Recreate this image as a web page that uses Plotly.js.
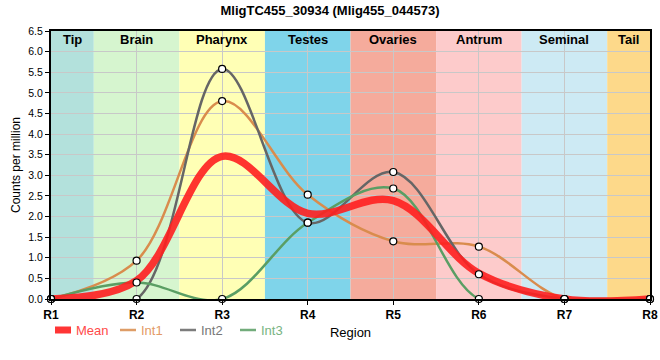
<!DOCTYPE html>
<html><head><meta charset="utf-8">
<script src="https://cdn.plot.ly/plotly-3.0.1.min.js"></script>
<style>html,body{margin:0;padding:0;background:#fff}#chart{width:660px;height:360px}</style>
</head><body><div id="chart"></div>
<script>
const regions = ["R1","R2","R3","R4","R5","R6","R7","R8"];
const int1 = [0, 0.93, 4.80, 2.53, 1.40, 1.27, 0, 0];
const int2 = [0, 0.00, 5.58, 1.85, 3.08, 0.60, 0, 0];
const int3 = [0, 0.40, 0.00, 1.85, 2.68, 0.00, 0, 0];
const meanVals = int1.map((v,i)=>(v+int2[i]+int3[i])/3);
const seriesNames = ["Mean","Int1","Int2","Int3"];
const bandNames = ["Tip","Brain","Pharynx","Testes","Ovaries","Antrum","Seminal","Tail"];
const bandColors = ["#b3e1dc","#d6f5cf","#ffffb5","#7fd4ea","#f5ab9c","#fdcbcb","#cdeaf4","#fdd98a"];
const lineColors = {Mean:'#ff2020', Int1:'#d98c4d', Int2:'#666666', Int3:'#5a9e64'};
const textColors = {Mean:'#ff4a4a', Int1:'#e39a66', Int2:'#777777', Int3:'#78b482'};

const M = {l:51, r:10, t:31, b:61}, W = 660, H = 360;
const PW = W - M.l - M.r, PH = H - M.t - M.b;
const px = v => (v - M.l) / PW, py = v => (H - M.b - v) / PH;

const x = regions;
const lineT = (y,name,w,op) => ({x, y, type:'scatter', mode:'lines', name, showlegend:false,
  line:{color:lineColors[name], width:w, shape:'spline', smoothing:1}, opacity:op||1, hoverinfo:'skip'});
const markT = (y) => ({x, y, type:'scatter', mode:'markers', showlegend:false,
  marker:{color:'#fff', size:7, line:{color:'#000', width:1.2}}, cliponaxis:false});

const traces = [
  lineT(int1,'Int1',2.5),
  lineT(int2,'Int2',2.5),
  lineT(int3,'Int3',2.5),
  lineT(meanVals,'Mean',7.5,0.9),
  markT(int1), markT(int2), markT(int3)
];

const shapes = bandNames.map((b,i)=>({type:'rect', xref:'x', yref:'paper', layer:'below',
  x0: Math.max(0,i-0.5), x1: Math.min(regions.length-1, i+0.5), y0:0, y1:1, fillcolor:bandColors[i], line:{width:0}}));
const annotations = bandNames.map((b,i)=>({xref:'x', yref:'paper', x:(Math.max(0,i-0.5)+Math.min(regions.length-1,i+0.5))/2,
  y:1, yanchor:'top', yshift:1, text:'<b>'+b+'</b>', showarrow:false, font:{size:13, color:'#000'}}));

// legend row (drawn manually to match the compact reference legend)
const legX = [55, 120, 180, 240];
const legY = 330;
seriesNames.forEach((n,i)=>{
  const isMean = n === 'Mean';
  shapes.push({type:'line', xref:'paper', yref:'paper', x0:px(legX[i]), x1:px(legX[i]+16), y0:py(legY), y1:py(legY),
    line:{color:lineColors[n], width: isMean ? 7 : 2.5}, opacity: isMean ? 0.9 : 0.85});
  annotations.push({xref:'paper', yref:'paper', x:px(legX[i]+19), y:py(legY), xanchor:'left', yanchor:'middle',
    text:n, showarrow:false, font:{size:13, color:textColors[n]}});
});

const layout = {
  width:W, height:H, margin:M,
  paper_bgcolor:'#fff', plot_bgcolor:'rgba(0,0,0,0)',
  font:{family:'"Liberation Sans", Arial, sans-serif', size:11, color:'#000'},
  title:{text:'<b>MligTC455_30934 (Mlig455_044573)</b>', x:0.5, xanchor:'center', y:0.985, yanchor:'top', font:{size:13}},
  xaxis:{type:'category', range:[0,7], showgrid:true, gridcolor:'#c8c8c8', gridwidth:1,
    showline:true, linecolor:'#000', linewidth:2, mirror:true, ticks:'outside', ticklen:4, tickcolor:'#000', zeroline:false,
    tickfont:{size:12}, tickvals:regions, ticktext:regions.map(r=>'<b>'+r+'</b>'),
    title:{text:'Region', font:{size:13}, standoff:6}},
  yaxis:{range:[0,6.5], dtick:0.5, tickformat:'.1f', showgrid:true, gridcolor:'#c8c8c8', gridwidth:1,
    showline:true, linecolor:'#000', linewidth:2, mirror:true, ticks:'outside', ticklen:4, tickcolor:'#000',
    zeroline:false, tickfont:{size:10.5},
    title:{text:'Counts per million', font:{size:12}, standoff:5}},
  shapes, annotations,
  showlegend:false
};
Plotly.newPlot('chart', traces, layout, {displayModeBar:false, staticPlot:true});
</script></body></html>
